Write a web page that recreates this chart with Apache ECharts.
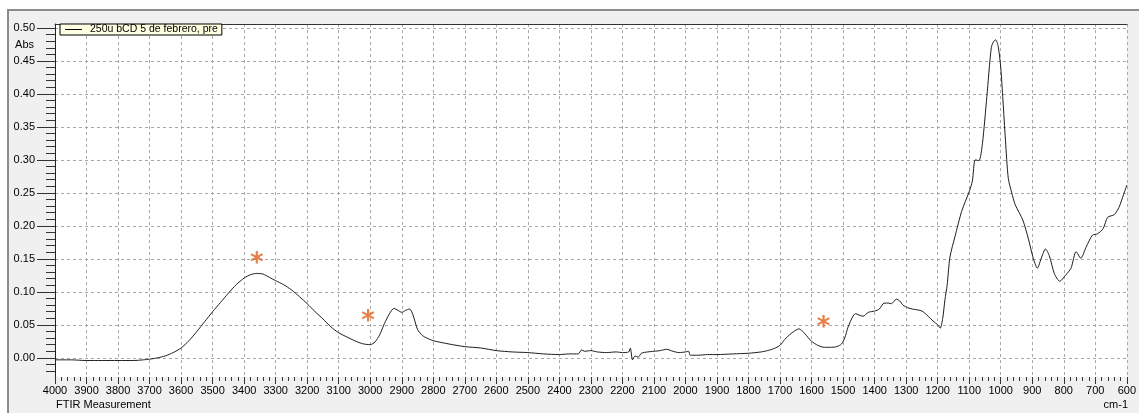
<!DOCTYPE html>
<html>
<head>
<meta charset="utf-8">
<title>FTIR</title>
<script src="https://cdn.jsdelivr.net/npm/echarts@6/dist/echarts.min.js"></script>
<style>
  html, body { margin: 0; padding: 0; background: #fff; }
  #frame { position: absolute; left: 7px; top: 9px; width: 1140px; height: 410px; background: #f0f0f0;
           border-left: 2px solid #8c8c8c; border-top: 2px solid #8c8c8c; }
  #chart { position: absolute; left: 0; top: 0; width: 1139px; height: 413px; }
</style>
</head>
<body>
<div id="frame"></div>
<div id="chart"></div>
<script>
// espectro (cm-1 / Abs)
const wavenumbers = [
  4000, 3950, 3900, 3850, 3800, 3750, 3720, 3700, 3675, 3650, 3625, 3600, 3575, 3550, 3525, 3500,
  3475, 3450, 3425, 3400, 3380, 3360, 3340, 3320, 3300, 3275, 3250, 3225, 3200, 3175, 3150, 3125,
  3100, 3067, 3040, 3020, 3000, 2985, 2970, 2955, 2940, 2925, 2912, 2900, 2888, 2875, 2865, 2850,
  2835, 2820, 2800, 2750, 2700, 2650, 2600, 2550, 2500, 2450, 2400, 2370, 2340, 2330, 2320, 2300,
  2280, 2250, 2220, 2200, 2180, 2175, 2168, 2160, 2150, 2140, 2120, 2100, 2080, 2060, 2040, 2020,
  2000, 1990, 1985, 1960, 1930, 1900, 1850, 1800, 1760, 1740, 1720, 1700, 1685, 1665, 1650, 1640,
  1630, 1620, 1600, 1580, 1560, 1540, 1520, 1505, 1495, 1484, 1470, 1461, 1450, 1437, 1420, 1400,
  1385, 1370, 1355, 1347, 1331, 1320, 1310, 1295, 1280, 1250, 1230, 1215, 1200, 1192, 1184, 1177,
  1170, 1161, 1145, 1124, 1100, 1090, 1081, 1069, 1058, 1044, 1030, 1022, 1016, 1008, 1000, 993,
  985, 976, 965, 954, 930, 912, 898, 884, 870, 858, 846, 830, 813, 795, 777, 761,
  746, 730, 709, 693, 675, 661, 640, 625, 610, 600
];
const absorbance = [
  -0.003, -0.003, -0.004, -0.004, -0.004, -0.004, -0.003, -0.002, 0.000, 0.003, 0.008, 0.015, 0.026, 0.040, 0.055, 0.070,
  0.084, 0.098, 0.111, 0.121, 0.126, 0.128, 0.127, 0.122, 0.117, 0.111, 0.103, 0.093, 0.082, 0.070, 0.059, 0.047,
  0.038, 0.030, 0.024, 0.021, 0.020, 0.024, 0.035, 0.052, 0.066, 0.075, 0.072, 0.069, 0.072, 0.074, 0.066, 0.043,
  0.034, 0.030, 0.026, 0.021, 0.017, 0.015, 0.011, 0.009, 0.008, 0.006, 0.005, 0.006, 0.006, 0.012, 0.010, 0.011,
  0.009, 0.008, 0.009, 0.008, 0.009, 0.015, -0.003, 0.003, 0.001, 0.007, 0.009, 0.010, 0.011, 0.013, 0.010, 0.008,
  0.009, 0.010, 0.004, 0.004, 0.005, 0.005, 0.006, 0.007, 0.009, 0.011, 0.014, 0.019, 0.028, 0.037, 0.042, 0.044,
  0.041, 0.036, 0.025, 0.019, 0.016, 0.016, 0.017, 0.021, 0.030, 0.047, 0.062, 0.067, 0.065, 0.063, 0.069, 0.071,
  0.074, 0.083, 0.083, 0.082, 0.089, 0.086, 0.080, 0.076, 0.074, 0.071, 0.063, 0.056, 0.050, 0.045, 0.060, 0.088,
  0.110, 0.153, 0.184, 0.222, 0.252, 0.268, 0.300, 0.299, 0.325, 0.396, 0.470, 0.480, 0.482, 0.472, 0.440, 0.391,
  0.330, 0.272, 0.250, 0.232, 0.209, 0.180, 0.153, 0.136, 0.153, 0.165, 0.155, 0.128, 0.116, 0.125, 0.136, 0.161,
  0.151, 0.167, 0.186, 0.188, 0.196, 0.213, 0.217, 0.228, 0.248, 0.262
];

// asteriscos naranjas
const markerWn = [3360, 3007, 1562];
const markerAbs = [0.153, 0.064, 0.055];

const yTicks = [0, 0.05, 0.10, 0.15, 0.20, 0.25, 0.30, 0.35, 0.40, 0.45, 0.50];
const seriesName = '250u bCD 5 de febrero, pre';

const font = 'Liberation Sans, Arial, sans-serif';
const gridLine = { show: true, lineStyle: { color: '#a8a8a8', type: [3, 3], width: 1 } };

const chart = echarts.init(document.getElementById('chart'));
chart.setOption({
  animation: false,
  textStyle: { fontFamily: font },
  grid: { left: 55, right: 11, top: 24, bottom: 36, show: true, backgroundColor: '#fff', borderWidth: 0 },
  legend: {
    data: [{ name: seriesName, icon: 'rect' }],
    left: 60, top: 24,
    backgroundColor: '#ffffe1', borderColor: '#000', borderWidth: 1,
    padding: [0, 4, 0, 5],
    itemWidth: 17, itemHeight: 1,
    itemStyle: { color: '#000' },
    textStyle: { fontSize: 10.5, color: '#000', lineHeight: 11, padding: [0, 0, 0, 3] }
  },
  xAxis: [{
    type: 'value', min: 600, max: 4000, interval: 100, inverse: true,
    axisLine: { show: false, onZero: false },
    axisTick: { show: true, length: 7, lineStyle: { color: '#333' } },
    minorTick: { show: true, splitNumber: 5, length: 4, lineStyle: { color: '#333' } },
    axisLabel: { fontSize: 11, color: '#000', margin: 8, formatter: v => String(v) },
    splitLine: gridLine
  }, {
    type: 'value', position: 'top', min: 600, max: 4000, inverse: true,
    axisLine: { show: true, onZero: false, lineStyle: { color: '#333', width: 1 } },
    axisTick: { show: false }, axisLabel: { show: false }, splitLine: { show: false }
  }],
  yAxis: {
    type: 'value', min: -0.029, max: 0.506, splitNumber: 10,
    axisLine: { show: true, onZero: false, lineStyle: { color: '#222', width: 1 } },
    axisTick: { show: true, length: 18, customValues: yTicks, lineStyle: { color: '#333' } },
    minorTick: { show: true, splitNumber: 5, length: 9, lineStyle: { color: '#333' } },
    axisLabel: { fontSize: 11, color: '#000', margin: 20, customValues: yTicks,
                 formatter: v => v.toFixed(2) },
    splitLine: gridLine
  },
  graphic: [
    { type: 'text', right: 1139 - 34, top: 39, style: { text: 'Abs', font: '11px ' + font, fill: '#000' } },
    { type: 'text', left: 56, top: 399, style: { text: 'FTIR Measurement', font: '11px ' + font, fill: '#000' } },
    { type: 'text', right: 11, top: 399, style: { text: 'cm-1', font: '11px ' + font, fill: '#000' } }
  ],
  series: [{
    name: seriesName,
    type: 'line',
    xAxisIndex: 0,
    data: wavenumbers.map((w, i) => [w, absorbance[i]]),
    symbol: 'none',
    smooth: 0.25,
    lineStyle: { color: '#1e1e1e', width: 1 },
    itemStyle: { color: '#1e1e1e' },
    z: 3
  }, {
    name: 'marcas',
    type: 'scatter',
    xAxisIndex: 0,
    data: markerWn.map((w, i) => [w, markerAbs[i]]),
    symbolSize: 0,
    silent: true,
    label: { show: true, position: 'inside', formatter: '*', fontSize: 26, fontWeight: 'bold',
             color: '#e0621c', fontFamily: 'DejaVu Sans', offset: [0, 7] },
    z: 4
  }]
});
</script>
</body>
</html>
